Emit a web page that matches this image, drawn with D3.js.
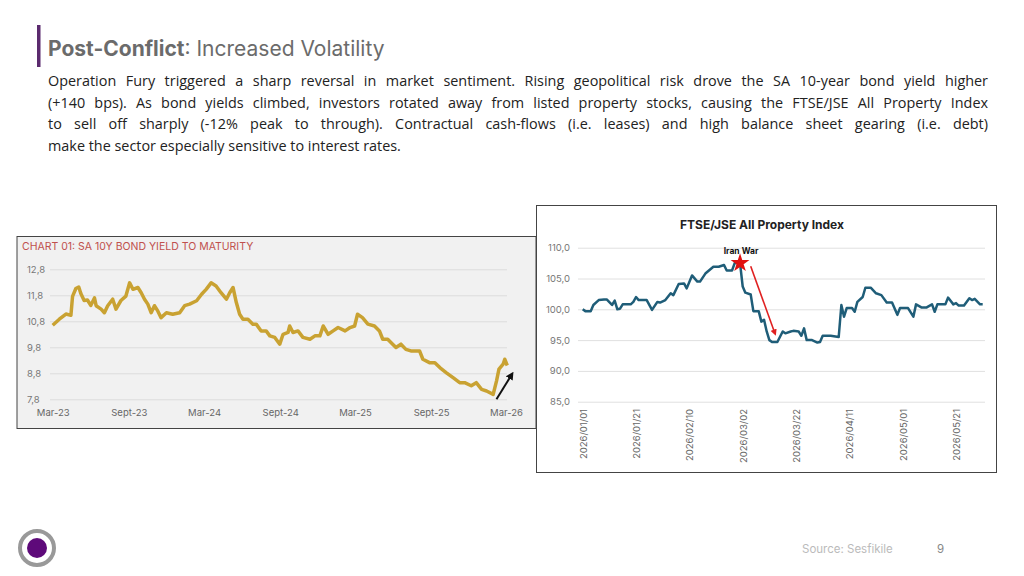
<!DOCTYPE html>
<html><head><meta charset="utf-8">
<script src="https://cdn.jsdelivr.net/npm/d3@7"></script>
<style>
body{margin:0;width:1024px;height:576px;background:#fff;overflow:hidden;font-family:Inter,"Noto Sans",sans-serif;position:relative}
#para{position:absolute;left:48px;top:70px;width:940px;font-family:"Open Sans",sans-serif;font-size:14.4px;line-height:21.6px;color:#222}
#para div{white-space:nowrap;text-align:justify;text-align-last:justify}
#para div:last-child{text-align-last:left}
svg{position:absolute;left:0;top:0}
</style></head><body>
<div id="para">
<div>Operation Fury triggered a sharp reversal in market sentiment. Rising geopolitical risk drove the SA 10-year bond yield higher</div>
<div>(+140 bps). As bond yields climbed, investors rotated away from listed property stocks, causing the FTSE/JSE All Property Index</div>
<div>to sell off sharply (-12% peak to through). Contractual cash-flows (i.e. leases) and high balance sheet gearing (i.e. debt)</div>
<div>make the sector especially sensitive to interest rates.</div>
</div>
<svg id="main" width="1024" height="576"></svg>
<script>
// SA 10Y bond yield
const bondDates = ["2023-03-01","2023-03-17","2023-04-02","2023-04-14","2023-04-18","2023-04-26","2023-05-03","2023-05-08","2023-05-16","2023-05-24","2023-06-01","2023-06-10","2023-06-14","2023-06-26","2023-07-04","2023-07-12","2023-07-24","2023-08-01","2023-08-13","2023-08-25","2023-09-03","2023-09-11","2023-09-23","2023-10-01","2023-10-09","2023-10-17","2023-10-25","2023-11-02","2023-11-10","2023-11-18","2023-12-01","2023-12-16","2024-01-02","2024-01-14","2024-01-26","2024-02-12","2024-02-24","2024-03-06","2024-03-18","2024-03-30","2024-04-11","2024-04-24","2024-05-02","2024-05-10","2024-05-18","2024-05-26","2024-06-03","2024-06-15","2024-06-27","2024-07-05","2024-07-17","2024-07-29","2024-08-07","2024-08-19","2024-08-31","2024-09-08","2024-09-20","2024-09-24","2024-10-02","2024-10-14","2024-10-26","2024-11-12","2024-11-24","2024-12-06","2024-12-14","2024-12-26","2025-01-07","2025-01-19","2025-02-05","2025-02-17","2025-02-28","2025-03-07","2025-03-19","2025-04-01","2025-04-17","2025-04-29","2025-05-07","2025-05-19","2025-05-31","2025-06-08","2025-06-20","2025-07-02","2025-07-14","2025-08-04","2025-08-12","2025-08-28","2025-09-10","2025-09-22","2025-10-08","2025-10-24","2025-11-09","2025-11-21","2025-12-07","2025-12-19","2026-01-01","2026-01-13","2026-01-29","2026-02-06","2026-02-12","2026-02-22","2026-02-26","2026-03-04"];
const bondYield = [10.65,10.88,11.08,11.03,11.76,12.06,12.12,11.87,11.6,11.62,11.41,11.7,11.4,11.27,11.13,11.4,11.65,11.27,11.6,11.77,12.28,12.03,12.1,11.9,11.65,11.46,11.13,11.4,11.2,10.94,11.13,11.07,11.13,11.4,11.46,11.59,11.84,12.03,12.28,12.16,11.9,11.65,11.9,12.1,11.52,11.07,10.88,10.88,10.69,10.69,10.43,10.43,10.24,10.18,9.92,10.3,10.37,10.62,10.37,10.43,10.18,10.11,10.24,10.24,10.62,10.3,10.43,10.56,10.43,10.56,10.62,11.07,10.94,10.69,10.62,10.43,10.11,10.11,9.92,9.79,9.92,9.72,9.66,9.66,9.34,9.21,9.21,9.02,8.82,8.63,8.44,8.44,8.32,8.44,8.18,8.12,7.99,8.5,8.96,9.15,9.34,9.1];
const bondTicks = [7.8,8.8,9.8,10.8,11.8,12.8];
const bondXTicks = ["2023-03-01","2023-09-01","2024-03-01","2024-09-01","2025-03-01","2025-09-01","2026-03-01"];
const bondXLabels = ["Mar-23","Sept-23","Mar-24","Sept-24","Mar-25","Sept-25","Mar-26"];

// FTSE/JSE All Property Index
const propDates = ["2026-01-01","2026-01-02","2026-01-04","2026-01-05","2026-01-07","2026-01-09","2026-01-10","2026-01-12","2026-01-13","2026-01-14","2026-01-15","2026-01-16","2026-01-19","2026-01-20","2026-01-21","2026-01-22","2026-01-25","2026-01-27","2026-01-29","2026-01-30","2026-02-01","2026-02-03","2026-02-04","2026-02-06","2026-02-08","2026-02-09","2026-02-11","2026-02-13","2026-02-14","2026-02-16","2026-02-19","2026-02-21","2026-02-23","2026-02-24","2026-02-26","2026-02-27","2026-03-01","2026-03-02","2026-03-03","2026-03-05","2026-03-06","2026-03-08","2026-03-09","2026-03-10","2026-03-11","2026-03-12","2026-03-13","2026-03-15","2026-03-17","2026-03-18","2026-03-20","2026-03-21","2026-03-23","2026-03-24","2026-03-25","2026-03-26","2026-03-28","2026-03-30","2026-03-31","2026-04-01","2026-04-04","2026-04-07","2026-04-08","2026-04-09","2026-04-10","2026-04-12","2026-04-13","2026-04-14","2026-04-16","2026-04-17","2026-04-19","2026-04-21","2026-04-23","2026-04-25","2026-04-27","2026-04-29","2026-04-30","2026-05-03","2026-05-05","2026-05-06","2026-05-08","2026-05-10","2026-05-12","2026-05-13","2026-05-14","2026-05-17","2026-05-18","2026-05-20","2026-05-21","2026-05-22","2026-05-24","2026-05-26","2026-05-27","2026-05-28","2026-05-30","2026-05-31"];
const propIndex = [100.0,99.7,99.7,100.7,101.5,101.6,101.6,100.7,101.4,100.0,100.1,100.8,100.8,101.2,102.0,101.5,101.5,99.9,101.2,101.1,101.5,102.6,102.3,104.1,104.2,103.4,105.5,104.5,104.5,105.8,106.9,106.9,107.2,106.3,106.3,107.5,107.5,103.7,102.7,102.4,99.7,99.7,98.0,98.3,96.4,95.0,94.7,94.7,96.4,96.1,96.4,96.5,96.4,95.7,96.9,95.0,95.0,94.6,94.7,95.7,95.7,95.5,100.7,98.8,100.2,100.2,99.6,101.2,102.0,103.5,103.5,102.6,102.3,101.1,101.1,99.1,100.2,100.2,98.8,100.8,100.3,100.3,100.8,99.6,100.8,100.8,101.9,100.8,101.0,100.6,100.6,101.8,101.5,101.7,100.8,100.8];
const propTicks = [85,90,95,100,105,110];
const propXTicks = ["2026/01/01","2026/01/21","2026/02/10","2026/03/02","2026/03/22","2026/04/11","2026/05/01","2026/05/21"];
const eventDate = "2026-03-01";
const eventValue = 107.5;

const svg = d3.select("#main");
const parse = d3.timeParse("%Y-%m-%d");
const parseSlash = d3.timeParse("%Y/%m/%d");
const fmt = d3.format(".1f");
const comma = v => fmt(v).replace(".", ",");

// header
svg.append("rect").attr("x", 37).attr("y", 25).attr("width", 3.5).attr("height", 42).attr("fill", "#5b2a6e");
const title = svg.append("text").attr("x", 48).attr("y", 56).attr("font-size", 21).attr("fill", "#6b6b6b");
title.append("tspan").attr("font-weight", "bold").text("Post-Conflict");
title.append("tspan").text(": Increased Volatility");

// chart 01
const c1 = svg.append("g");
c1.append("rect").attr("x", 17).attr("y", 236.5).attr("width", 519).attr("height", 192).attr("fill", "#f1f1f1").attr("stroke", "#444").attr("stroke-width", 1);
c1.append("text").attr("x", 22).attr("y", 250).attr("font-size", 10.5).attr("fill", "#c0504d").text("CHART 01: SA 10Y BOND YIELD TO MATURITY");

const x1 = d3.scaleTime().domain([parse("2023-03-01"), parse("2026-03-01")]).range([52.7, 506]);
const y1 = d3.scaleLinear().domain([7.8, 12.8]).range([399.3, 269.3]);

c1.append("g").attr("transform", "translate(50,0)")
  .call(d3.axisLeft(y1).tickValues(bondTicks).tickSize(-457).tickFormat(comma))
  .call(g => g.select(".domain").remove())
  .call(g => g.selectAll("line").attr("stroke", "#dcdcdc"))
  .call(g => g.selectAll("text").attr("x", -23).attr("text-anchor", "start").attr("fill", "#777").attr("font-size", 9.5).attr("font-family", "Inter,sans-serif"));

c1.append("g").attr("transform", "translate(0,406)")
  .call(d3.axisBottom(x1).tickValues(bondXTicks.map(parse)).tickSize(0).tickFormat((d, i) => bondXLabels[i]))
  .call(g => g.select(".domain").remove())
  .call(g => g.selectAll("text").attr("fill", "#666").attr("font-size", 9.5).attr("font-family", "Inter,sans-serif"));

const bond = bondDates.map((d, i) => ({ date: parse(d), v: bondYield[i] }));
c1.append("path").datum(bond)
  .attr("fill", "none").attr("stroke", "#c9a232").attr("stroke-width", 3.5).attr("stroke-linejoin", "round")
  .attr("d", d3.line().x(d => x1(d.date)).y(d => y1(d.v)));

svg.append("defs").html(`
  <marker id="ab" viewBox="0 0 10 10" refX="5" refY="5" markerWidth="4" markerHeight="4" orient="auto"><path d="M0,0L10,5L0,10z" fill="#111"/></marker>
  <marker id="ar" viewBox="0 0 10 10" refX="5" refY="5" markerWidth="4" markerHeight="4" orient="auto"><path d="M0,0L10,5L0,10z" fill="#e02020"/></marker>`);
c1.append("line").attr("x1", x1(parse("2026-02-06"))).attr("y1", y1(7.8))
  .attr("x2", x1(parse("2026-03-14"))).attr("y2", y1(8.73))
  .attr("stroke", "#111").attr("stroke-width", 2).attr("marker-end", "url(#ab)");

// chart 02
const c2 = svg.append("g");
c2.append("rect").attr("x", 536.5).attr("y", 205.5).attr("width", 460).attr("height", 267).attr("fill", "#fff").attr("stroke", "#444").attr("stroke-width", 1);
c2.append("text").attr("x", 762).attr("y", 229).attr("text-anchor", "middle").attr("font-size", 12).attr("font-weight", "bold").attr("fill", "#222").text("FTSE/JSE All Property Index");

const x2 = d3.scaleTime().domain([parse("2026-01-01"), parse("2026-05-31")]).range([582.7, 982.7]);
const y2 = d3.scaleLinear().domain([85, 110]).range([401.7, 247.7]);

c2.append("g").attr("transform", "translate(578,0)")
  .call(d3.axisLeft(y2).tickValues(propTicks).tickSize(-407).tickFormat(comma))
  .call(g => g.select(".domain").remove())
  .call(g => g.selectAll("line").attr("stroke", "#e0e0e0"))
  .call(g => g.selectAll("text").attr("x", -8).attr("fill", "#777").attr("font-size", 9.5).attr("font-family", "Inter,sans-serif"));

c2.append("g").attr("transform", "translate(0,407)")
  .call(d3.axisBottom(x2).tickValues(propXTicks.map(parseSlash)).tickSize(0).tickFormat(d3.timeFormat("%Y/%m/%d")))
  .call(g => g.select(".domain").remove())
  .call(g => g.selectAll("text").attr("transform", "rotate(-90)").attr("text-anchor", "end").attr("x", -2).attr("y", 0).attr("dy", "0.35em")
    .attr("fill", "#666").attr("font-size", 9.5).attr("font-family", "Inter,sans-serif"));

const prop = propDates.map((d, i) => ({ date: parse(d), v: propIndex[i] }));
c2.append("path").datum(prop)
  .attr("fill", "none").attr("stroke", "#1f5d78").attr("stroke-width", 2.5).attr("stroke-linejoin", "round")
  .attr("d", d3.line().x(d => x2(d.date)).y(d => y2(d.v)));

const ex = x2(parse(eventDate)), ey = y2(eventValue);
c2.append("path").attr("d", d3.symbol().type(d3.symbolStar).size(110)()).attr("transform", `translate(${ex},${ey})`).attr("fill", "#e01010");
c2.append("text").attr("x", ex + 1).attr("y", ey - 9).attr("text-anchor", "middle").attr("font-size", 8.5).attr("font-weight", "bold").attr("fill", "#111").text("Iran War");
c2.append("line").attr("x1", x2(parse("2026-03-05"))).attr("y1", y2(107))
  .attr("x2", x2(parse("2026-03-14"))).attr("y2", y2(96.2))
  .attr("stroke", "#e02020").attr("stroke-width", 1.6).attr("marker-end", "url(#ar)");

// footer
svg.append("circle").attr("cx", 37).attr("cy", 548).attr("r", 17).attr("fill", "#fff").attr("stroke", "#999").attr("stroke-width", 4);
svg.append("circle").attr("cx", 37).attr("cy", 548).attr("r", 10).attr("fill", "#5e0a7a");
svg.append("text").attr("x", 802).attr("y", 553).attr("font-size", 11.5).attr("fill", "#bbb").text("Source: Sesfikile");
svg.append("text").attr("x", 937).attr("y", 553).attr("font-size", 11.5).attr("fill", "#888").text("9");
</script>
</body></html>
